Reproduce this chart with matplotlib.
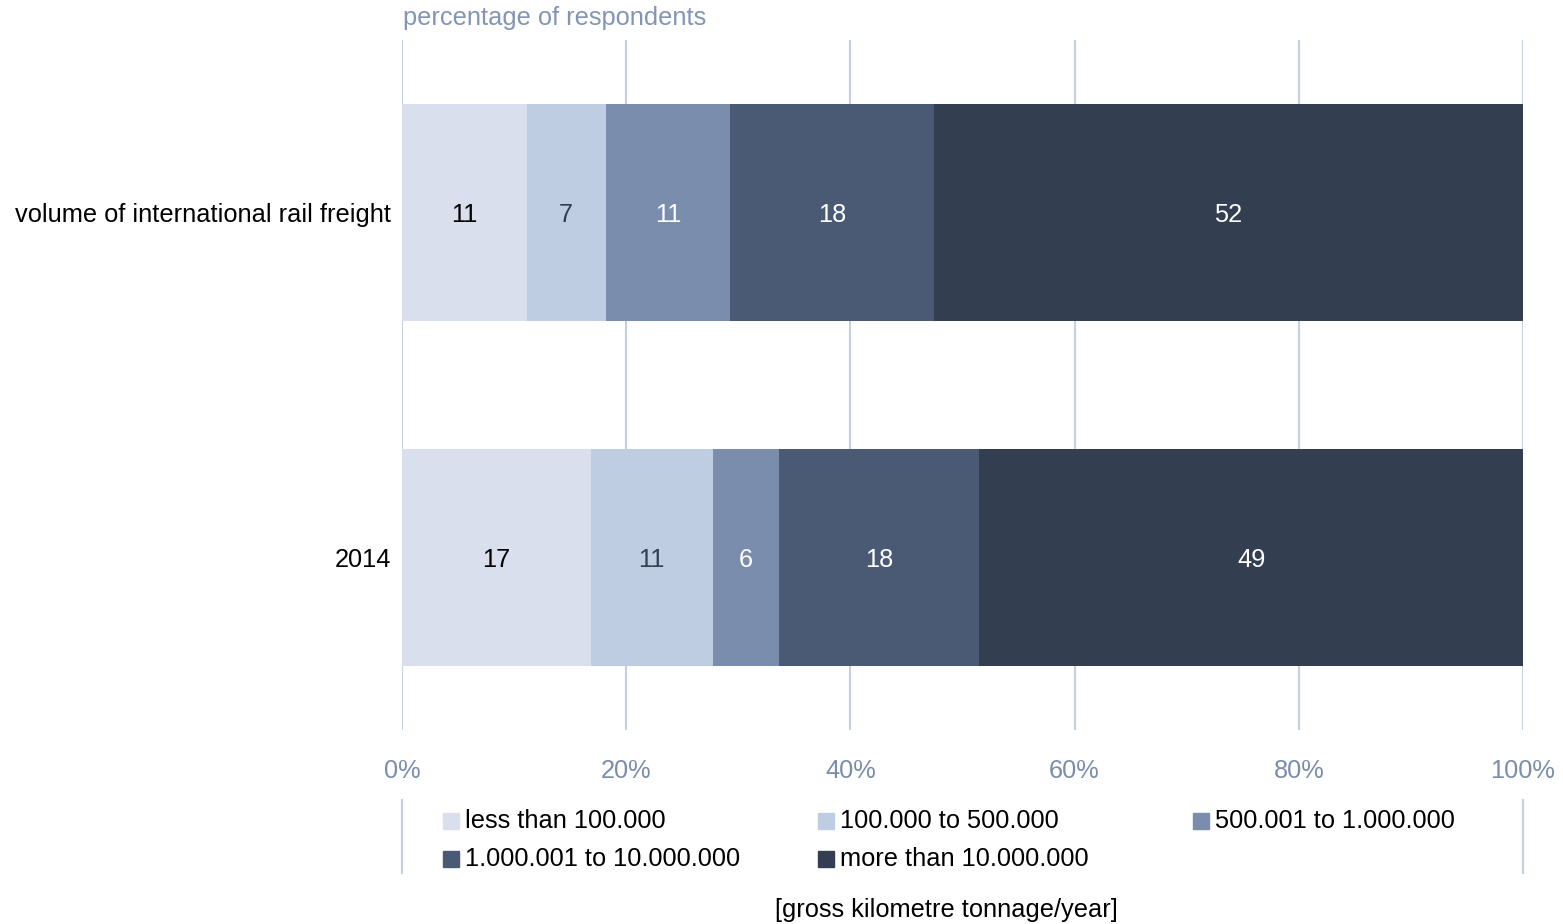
import matplotlib.pyplot as plt
from matplotlib.patches import Rectangle
from matplotlib.lines import Line2D
import numpy as np

plt.rcParams['font.family'] = ['Liberation Sans', 'DejaVu Sans']

categories = ['volume of international rail freight', '2014']
series = ['less than 100.000', '100.000 to 500.000', '500.001 to 1.000.000',
          '1.000.001 to 10.000.000', 'more than 10.000.000']
# share of respondents per volume class, one row per category
values = np.array([
    [11, 7, 11, 18, 52],
    [17, 11, 6, 18, 49],
])
colors = ['#D9DFEC', '#BFCDE3', '#7A8DAD', '#4A5A74', '#333F50']
label_colors = ['black', '#333F50', 'white', 'white', 'white']
grid_color = '#C5D0E3'
tick_color = '#7A8DAD'
fs = 18.3

W, H = 1563, 924
fig = plt.figure(figsize=(W / 100, H / 100), dpi=100)
ax = fig.add_axes([402 / W, 1 - 730 / H, (1523 - 402) / W, (730 - 40) / H])

# stacked bars scaled to 100 %
shares = values / values.sum(axis=1, keepdims=True)
y = np.arange(len(categories))
left = np.zeros(len(categories))
for i, name in enumerate(series):
    bars = ax.barh(y, shares[:, i], left=left, height=0.628, color=colors[i],
                   label=name, zorder=2)
    for j, b in enumerate(bars):
        ax.text(left[j] + shares[j, i] / 2, y[j], str(values[j, i]),
                ha='center', va='center_baseline', fontsize=fs,
                color=label_colors[i], zorder=3)
    left += shares[:, i]

ax.set_xlim(0, 1)
ax.set_ylim(1.5, -0.5)
ax.set_xticks(np.linspace(0, 1, 6))
ax.set_xticklabels([f'{int(v)}%' for v in np.linspace(0, 100, 6)])
ax.set_yticks(y)
ax.set_yticklabels(categories)
ax.tick_params(axis='x', length=0, pad=21, labelsize=fs, labelcolor=tick_color)
ax.tick_params(axis='y', length=0, pad=8, labelsize=fs)
ax.grid(axis='x', color=grid_color, linewidth=1.5, zorder=0)
ax.set_axisbelow(True)
for s in ax.spines.values():
    s.set_visible(False)

fig.text(403 / W, 1 - 18 / H, 'percentage of respondents', ha='left', va='center',
         fontsize=fs, color='#8395B5')

# legend in three fixed columns, bracketed by two vertical rules
for xl in (402, 1523):
    fig.add_artist(Line2D([xl / W, xl / W], [1 - 800 / H, 1 - 873 / H],
                          color=grid_color, linewidth=1.5))
col_x = [443, 818, 1193]
row_y = [821, 859]
positions = [(0, 0), (1, 0), (2, 0), (0, 1), (1, 1)]
sq = 16
for i, name in enumerate(series):
    c, r = positions[i]
    x0, yc = col_x[c], row_y[r]
    fig.add_artist(Rectangle((x0 / W, 1 - (yc + sq / 2) / H), sq / W, sq / H,
                             color=colors[i], transform=fig.transFigure))
    fig.text((x0 + sq + 6) / W, 1 - yc / H, name, ha='left', va='center',
             fontsize=fs, color='black')

fig.text(946 / W, 1 - 910 / H, '[gross kilometre tonnage/year]', ha='center',
         va='center', fontsize=fs, color='black')

fig.savefig('out.png', dpi=100)
